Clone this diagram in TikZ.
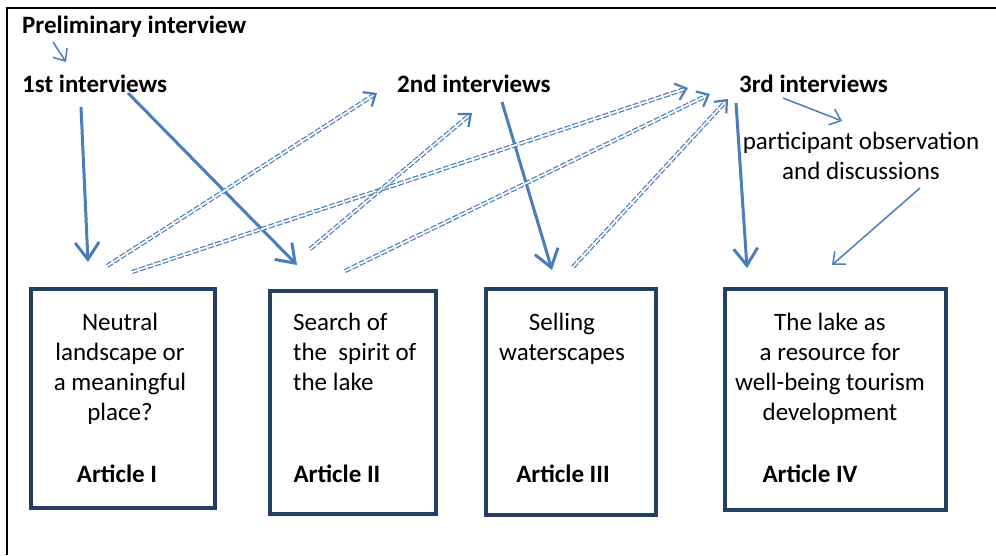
\documentclass[tikz,border=0pt]{standalone}
\usepackage{fontspec}
\setmainfont{Carlito}
\usetikzlibrary{arrows.meta}
\definecolor{flowblue}{RGB}{74,126,187}
\definecolor{boxblue}{RGB}{35,64,100}

\begin{document}
\begin{tikzpicture}[x=1pt,y=-1pt,
	every node/.style={inner sep=0pt,font=\fontsize{25}{30}\selectfont},
	head/.style={font=\fontsize{25}{30}\selectfont\bfseries,anchor=base west},
	title/.style={font=\fontsize{25}{30}\selectfont\bfseries,anchor=base},
	body/.style={align=center,anchor=base},
	article/.style={draw=boxblue,line width=4pt},
	flow/.style={flowblue,line width=3pt,-{Straight Barb[length=17pt,width=24pt]}},
	hint/.style={flowblue,line width=1.5pt,-{Straight Barb[length=10pt,width=17pt]}},
	link/.style={flowblue,line width=1.2pt,double=white,double distance=1.8pt,
		dash pattern=on 6pt off 2pt,-{Straight Barb[length=10pt,width=17pt,line width=2.2pt 0]}}]
	\useasboundingbox (0,0) rectangle (996,555);
	\draw[line width=1.5pt] (7,555) -- (7,8) -- (996,8);

	% interviews
	\node[head] (prelim) at (22,33) {Preliminary interview};
	\node[head] (int1) at (22,92) {1st interviews};
	\node[head] (int2) at (397,92) {2nd interviews};
	\node[head] (int3) at (739,92) {3rd interviews};
	\node[body] (obs) at (861,179) {participant observation\\and discussions};

	% articles
	\node[article,minimum width=184,minimum height=219] (art1) at (123,398.5) {};
	\node[article,minimum width=166,minimum height=223] (art2) at (353,402.5) {};
	\node[article,minimum width=170,minimum height=226] (art3) at (571,402) {};
	\node[article,minimum width=221,minimum height=221] (art4) at (835.5,399.5) {};

	\node[body] (txt1) at (120,420) {Neutral\\landscape or\\a meaningful\\place?};
	\node[body,align=left,anchor=base west] (txt2) at (293,390) {Search of\\the\ \ spirit of\\the lake};
	\node[body] (txt3) at (562,360) {Selling\\waterscapes};
	\node[body] (txt4) at (830,420) {The lake as\\a resource for\\well-being tourism\\development};

	\node[title] (lab1) at (117,482) {Article I};
	\node[title] (lab2) at (337,482) {Article II};
	\node[title] (lab3) at (563,482) {Article III};
	\node[title] (lab4) at (810,482) {Article IV};

	% arrow ends
	\coordinate (p0) at (53,42);   \coordinate (p1) at (66,62);
	\coordinate (a1s) at (81,107); \coordinate (a1e) at (88,262);
	\coordinate (a2s) at (128,93); \coordinate (a2e) at (297,265);
	\coordinate (a3s) at (502,102); \coordinate (a3e) at (552,270);
	\coordinate (a4s) at (736,103); \coordinate (a4e) at (747,268);
	\coordinate (o1s) at (783,98); \coordinate (o1e) at (842,121);
	\coordinate (o2s) at (920,188); \coordinate (o2e) at (832,265);
	\coordinate (d1s) at (107,266); \coordinate (d1e) at (377,93);
	\coordinate (d2s) at (132,272); \coordinate (d2e) at (688,88);
	\coordinate (d3s) at (310,249); \coordinate (d3e) at (472,113);
	\coordinate (d4s) at (345,271); \coordinate (d4e) at (710,94);
	\coordinate (d5s) at (573,267); \coordinate (d5e) at (728,99);

	\draw[hint] (p0) -- (p1);
	\draw[flow] (a1s) -- (a1e);
	\draw[flow] (a2s) -- (a2e);
	\draw[flow] (a3s) -- (a3e);
	\draw[flow] (a4s) -- (a4e);
	\draw[hint] (o1s) -- (o1e);
	\draw[hint] (o2s) -- (o2e);
	\foreach \d in {d1,d2,d3,d4,d5}
		\draw[link] (\d s) -- (\d e);
\end{tikzpicture}
\end{document}
